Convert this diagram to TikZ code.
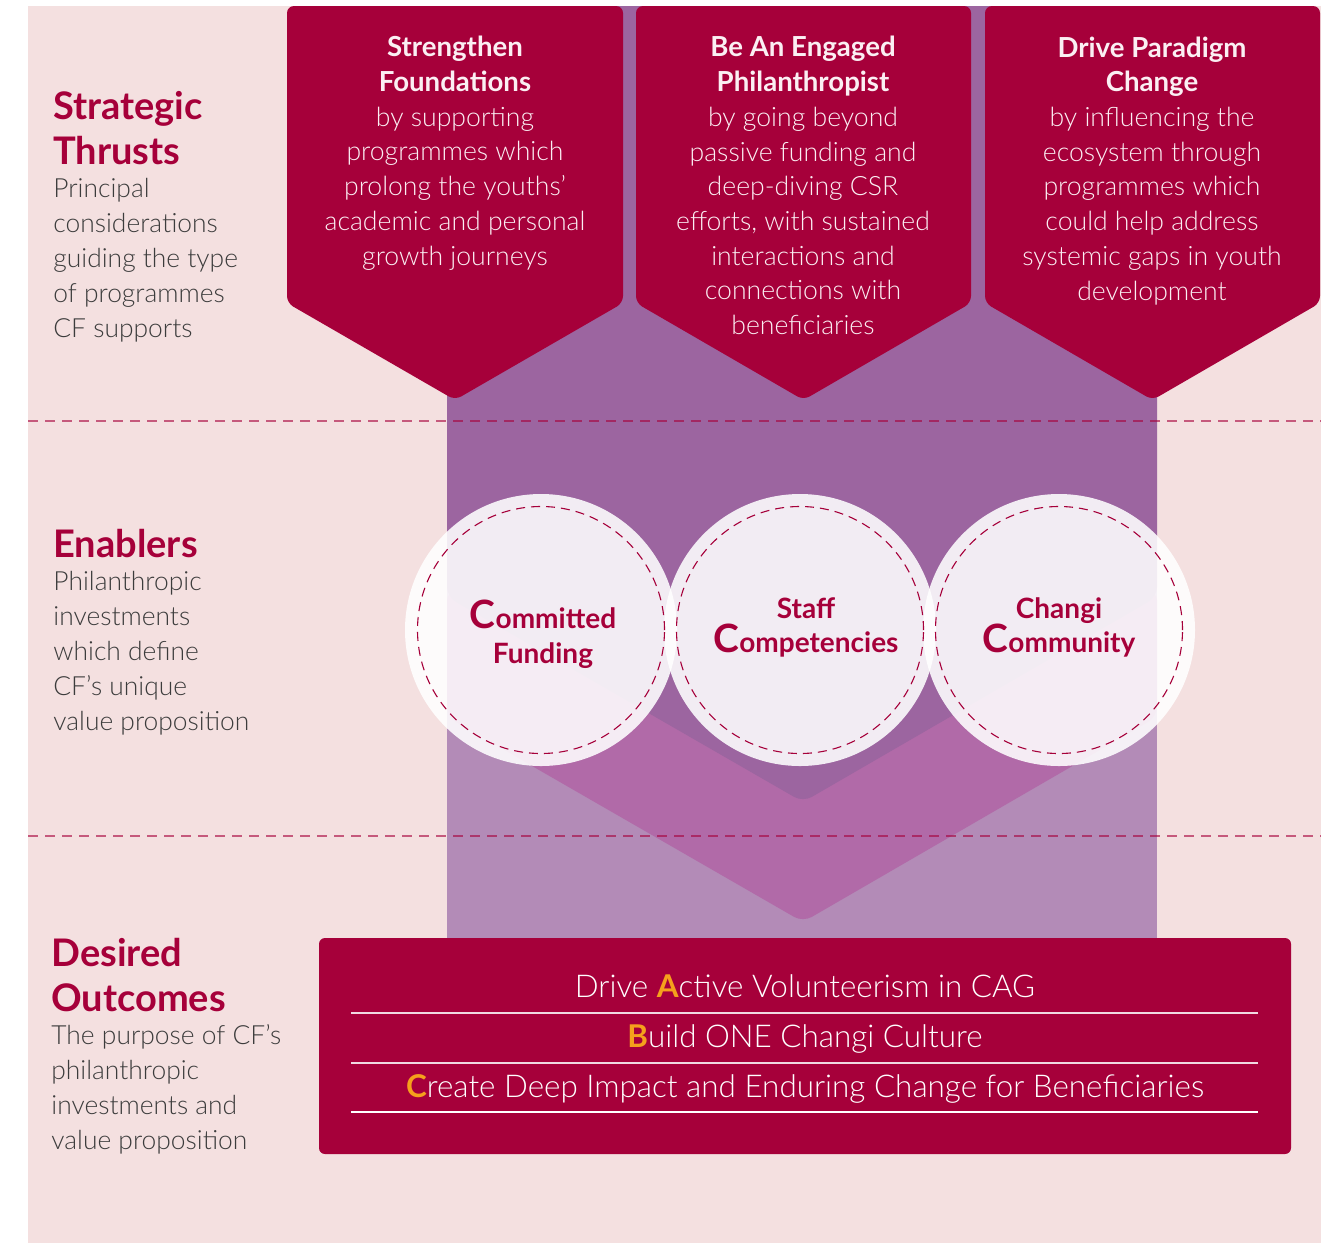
\documentclass[tikz,border=0pt]{standalone}
\usepackage{fontspec}
\setmainfont{Lato}
\IfFontExistsTF{Lato Light}{\newfontfamily\lightf{Lato Light}}{\newfontfamily\lightf{Lato}}
\definecolor{bgpink}{HTML}{F4E0E0}
\definecolor{crim}{HTML}{A6003A}
\definecolor{purpD}{HTML}{9C65A0}
\definecolor{purpM}{HTML}{B16AA8}
\definecolor{purpL}{HTML}{B38BB7}
\definecolor{txtgray}{HTML}{3C3C3C}
\definecolor{orng}{HTML}{F5A11C}
\definecolor{pentw}{HTML}{FBEFF3}
\newcommand\tb[1]{{\normalfont\bfseries\fontsize{13.8}{17.35}\selectfont #1}}
\newcommand\bigC[1]{{\fontsize{19.5}{16}\selectfont #1}}
\newcommand\orl[1]{{\normalfont\bfseries\color{orng}#1}}
\begin{document}
\begin{tikzpicture}[x=0.5pt,y=-0.5pt,
  pent/.style={fill=crim, rounded corners=3.5pt},
  pentxt/.style={anchor=base, align=center, text=pentw, inner sep=0pt, font=\lightf\fontsize{13.3}{17.35}\selectfont},
  headtxt/.style={anchor=base west, align=left, text=crim, inner sep=0pt, font=\bfseries\fontsize{19}{22.5}\selectfont},
  bodytxt/.style={anchor=base west, align=left, text=txtgray, inner sep=0pt, font=\lightf\fontsize{13.2}{17.4}\selectfont},
  disc/.style={circle, fill=white, fill opacity=0.88, minimum size=136pt, inner sep=0pt},
  ring/.style={draw=crim, dash pattern=on 4.5pt off 3pt, line width=0.55pt},
  circtxt/.style={anchor=base, inner sep=0pt, text=crim, font=\bfseries\fontsize{14}{16}\selectfont},
  outtxt/.style={anchor=base, inner sep=0pt, text=white, font=\lightf\fontsize{15.7}{16}\selectfont},
  sepline/.style={draw=white, draw opacity=0.85, line width=0.6pt},
  hdash/.style={draw=crim, draw opacity=0.6, line width=0.7pt, dash pattern=on 5pt off 3.5pt}
]
\useasboundingbox (0,0) rectangle (1332,1243);
\fill[white] (0,0) rectangle (1332,1243);
\fill[bgpink] (28,6) rectangle (1321,1243);

% purple column
\fill[purpL] (447,6) rectangle (1157,938);
\fill[purpM, rounded corners=5pt] (447,590) -- (803,795) -- (1157,590) -- (1157,717) -- (803,922) -- (447,717) -- cycle;
\fill[purpD, rounded corners=5pt] (447,6) -- (1157,6) -- (1157,597) -- (803,802) -- (447,597) -- cycle;

% pentagons
\fill[pent] (287,6) -- (623,6) -- (623,303) -- (455,400) -- (287,303) -- cycle;
\fill[pent] (636,6) -- (971,6) -- (971,303) -- (803.5,400) -- (636,303) -- cycle;
\fill[pent] (985,6) -- (1320,6) -- (1320,303) -- (1152.5,400) -- (985,303) -- cycle;

% multi-line nodes: anchor=base is the baseline of the last line
\node[pentxt] (p1) at (455,265) {\tb{Strengthen}\\\tb{Foundations}\\by supporting\\programmes which\\prolong the youths’\\academic and personal\\growth journeys};
\node[pentxt] (p2) at (803,334.5) {\tb{Be An Engaged}\\\tb{Philanthropist}\\by going beyond\\passive funding and\\deep-diving CSR\\efforts, with sustained\\interactions and\\connections with\\beneficiaries};
\node[pentxt] (p3) at (1152,300) {\tb{Drive Paradigm}\\\tb{Change}\\by influencing the\\ecosystem through\\programmes which\\could help address\\systemic gaps in youth\\development};

% dashed separators
\coordinate (d1a) at (28,421); \coordinate (d1b) at (1321,421);
\coordinate (d2a) at (28,836); \coordinate (d2b) at (1321,836);
\draw[hdash] (d1a) -- (d1b);
\draw[hdash] (d2a) -- (d2b);

% circles
\node[disc] (c1) at (541,630) {};
\node[disc] (c2) at (800,630) {};
\node[disc] (c3) at (1059,630) {};
\draw[ring] (c1.center) circle (61.75pt);
\draw[ring] (c2.center) circle (61.75pt);
\draw[ring] (c3.center) circle (61.75pt);
\node[circtxt] (c1a) at (543,628) {\bigC{C}ommitted};
\node[circtxt] (c1b) at (543,663) {Funding};
\node[circtxt] (c2a) at (806,618) {Staff};
\node[circtxt] (c2b) at (806,652) {\bigC{C}ompetencies};
\node[circtxt] (c3a) at (1059,618) {Changi};
\node[circtxt] (c3b) at (1059,652) {\bigC{C}ommunity};

% left labels
\node[headtxt] (h1) at (53,164) {Strategic\\Thrusts};
\node[bodytxt] (b1) at (53,337) {Principal\\considerations\\guiding the type\\of programmes\\CF supports};
\node[headtxt] (h2) at (53,557) {Enablers};
\node[bodytxt] (b2) at (53,730) {Philanthropic\\investments\\which define\\CF’s unique\\value proposition};
\node[headtxt] (h3) at (51,1011) {Desired\\Outcomes};
\node[bodytxt] (b3) at (51,1149) {The purpose of CF’s\\philanthropic\\investments and\\value proposition};

% outcomes box
\node[fill=crim, rounded corners=3pt, minimum width=486pt, minimum height=108pt, inner sep=0pt] (box) at (805,1046) {};
\draw[sepline] (351,1013) -- (1258,1013);
\draw[sepline] (351,1063) -- (1258,1063);
\draw[draw=white, line width=0.6pt] (351,1112) -- (1258,1112);
\node[outtxt] (o1) at (805,997) {Drive \orl{A}ctive Volunteerism in CAG};
\node[outtxt] (o2) at (805,1047) {\orl{B}uild ONE Changi Culture};
\node[outtxt] (o3) at (805,1097) {\orl{C}reate Deep Impact and Enduring Change for Beneficiaries};
\end{tikzpicture}
\end{document}
